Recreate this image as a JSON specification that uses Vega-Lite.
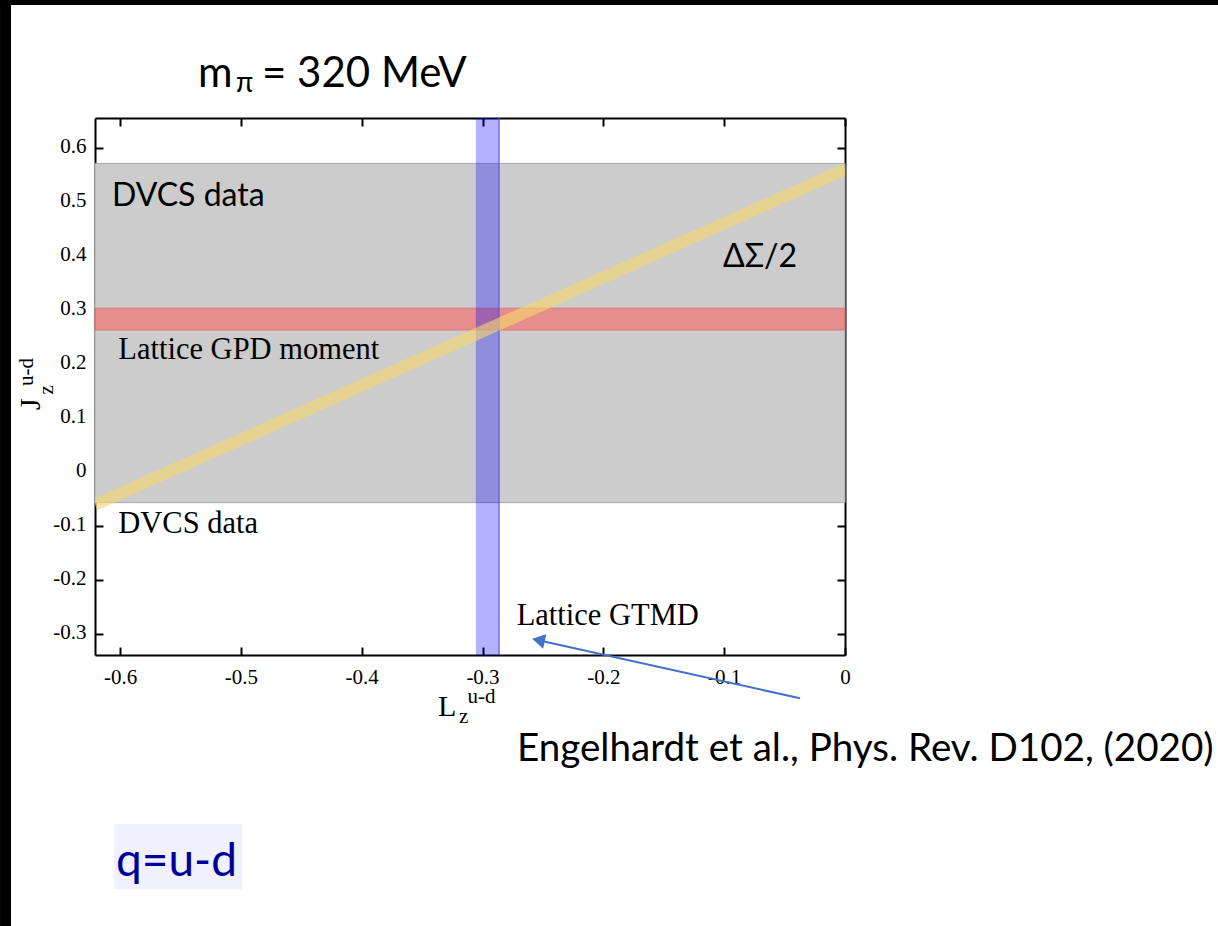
{
  "$schema": "https://vega.github.io/schema/vega-lite/v6.json",
  "width": 750,
  "height": 537,
  "autosize": "none",
  "padding": {"left": 95, "top": 118, "right": 373, "bottom": 271},
  "background": "white",
  "config": {
    "view": {"stroke": null},
    "axis": {
      "grid": false,
      "domainColor": "black",
      "domainWidth": 2,
      "tickColor": "black",
      "tickWidth": 2,
      "tickSize": -8,
      "labelFont": "Liberation Serif",
      "labelFontSize": 21,
      "labelColor": "black",
      "labelFlush": false,
      "labelOverlap": false,
      "zindex": 1,
      "title": null
    }
  },
  "resolve": {"axis": {"x": "independent", "y": "independent"}},
  "layer": [
    {
      "description": "DVCS band",
      "data": {"values": [{"lo": -0.056, "hi": 0.572}]},
      "mark": {"type": "rect", "fill": "#cccccc", "stroke": "#a9a9a9", "strokeWidth": 1},
      "encoding": {
        "y": {"field": "lo", "type": "quantitative", "scale": {"domain": [-0.338, 0.656], "nice": false, "zero": false},
              "axis": {"orient": "left", "values": [-0.3, -0.2, -0.1, 0, 0.1, 0.2, 0.3, 0.4, 0.5, 0.6], "labelExpr": "'' + datum.value", "labelPadding": 17, "labelOffset": -1.5}},
        "y2": {"field": "hi"}
      }
    },
    {
      "description": "lattice GPD moment band",
      "data": {"values": [{"lo": 0.2635, "hi": 0.304}]},
      "mark": {"type": "rect", "fill": "#ff4d4d", "fillOpacity": 0.5, "stroke": "#e05a5a", "strokeWidth": 1, "strokeOpacity": 0.6},
      "encoding": {
        "y": {"field": "lo", "type": "quantitative", "scale": {"domain": [-0.338, 0.656], "nice": false, "zero": false},
              "axis": {"orient": "right", "values": [-0.3, -0.2, -0.1, 0, 0.1, 0.2, 0.3, 0.4, 0.5, 0.6], "labels": false}},
        "y2": {"field": "hi"}
      }
    },
    {
      "description": "lattice GTMD band",
      "data": {"values": [{"lo": -0.3055, "hi": -0.2863}]},
      "mark": {"type": "rect", "fill": "#0000ff", "fillOpacity": 0.3},
      "encoding": {
        "x": {"field": "lo", "type": "quantitative", "scale": {"domain": [-0.6207, 0], "nice": false, "zero": false},
              "axis": {"orient": "bottom", "values": [-0.6, -0.5, -0.4, -0.3, -0.2, -0.1, 0], "labelExpr": "'' + datum.value", "labelPadding": 19.5, "labelBaseline": "top"}},
        "x2": {"field": "hi"}
      }
    },
    {
      "data": {"values": [{"L": -0.2863}]},
      "mark": {"type": "rule", "color": "#5a5af0", "strokeWidth": 1.5, "opacity": 0.8},
      "encoding": {
        "x": {"field": "L", "type": "quantitative", "scale": {"domain": [-0.6207, 0], "nice": false, "zero": false},
              "axis": {"orient": "top", "values": [-0.6, -0.5, -0.4, -0.3, -0.2, -0.1, 0], "labels": false}}
      }
    },
    {
      "description": "J = L + DeltaSigma/2",
      "data": {"values": [{"L": -0.6207, "J": -0.060}, {"L": 0, "J": 0.561}]},
      "mark": {"type": "line", "stroke": "#f5d76e", "opacity": 0.62, "strokeWidth": 12, "strokeCap": "butt", "clip": true},
      "encoding": {
        "x": {"field": "L", "type": "quantitative", "scale": {"domain": [-0.6207, 0], "nice": false, "zero": false}, "axis": null},
        "y": {"field": "J", "type": "quantitative", "scale": {"domain": [-0.338, 0.656], "nice": false, "zero": false}, "axis": null}
      }
    },
    {
      "data": {"values": [{"label": "DVCS data", "L": -0.6066, "J": 0.4935}, {"label": "ΔΣ/2", "L": -0.1010, "J": 0.3808}]},
      "mark": {"type": "text", "font": "Lato", "fontSize": 32, "align": "left", "baseline": "alphabetic", "color": "black"},
      "encoding": {
        "x": {"field": "L", "type": "quantitative", "scale": {"domain": [-0.6207, 0], "nice": false, "zero": false}, "axis": null},
        "y": {"field": "J", "type": "quantitative", "scale": {"domain": [-0.338, 0.656], "nice": false, "zero": false}, "axis": null},
        "text": {"field": "label"}
      }
    },
    {
      "data": {"values": [
        {"label": "Lattice GPD moment", "L": -0.6014, "J": 0.2094},
        {"label": "DVCS data", "L": -0.6014, "J": -0.1127},
        {"label": "Lattice GTMD", "L": -0.2717, "J": -0.2825}
      ]},
      "mark": {"type": "text", "font": "Liberation Serif", "fontSize": 30.5, "align": "left", "baseline": "alphabetic", "color": "black"},
      "encoding": {
        "x": {"field": "L", "type": "quantitative", "scale": {"domain": [-0.6207, 0], "nice": false, "zero": false}, "axis": null},
        "y": {"field": "J", "type": "quantitative", "scale": {"domain": [-0.338, 0.656], "nice": false, "zero": false}, "axis": null},
        "text": {"field": "label"}
      }
    },
    {
      "description": "arrow shaft",
      "data": {"values": [{"L": -0.0372, "J": -0.4182, "L2": -0.2537, "J2": -0.3106}]},
      "mark": {"type": "rule", "color": "#4472c4", "strokeWidth": 2},
      "encoding": {
        "x": {"field": "L", "type": "quantitative", "scale": {"domain": [-0.6207, 0], "nice": false, "zero": false}, "axis": null},
        "y": {"field": "J", "type": "quantitative", "scale": {"domain": [-0.338, 0.656], "nice": false, "zero": false}, "axis": null},
        "x2": {"field": "L2"},
        "y2": {"field": "J2"}
      }
    },
    {
      "description": "arrow head",
      "data": {"values": [{"L": -0.2537, "J": -0.3106}]},
      "mark": {"type": "point", "shape": "triangle-left", "filled": true, "color": "#4472c4", "opacity": 1, "size": 220, "angle": 12.5},
      "encoding": {
        "x": {"field": "L", "type": "quantitative", "scale": {"domain": [-0.6207, 0], "nice": false, "zero": false}, "axis": null},
        "y": {"field": "J", "type": "quantitative", "scale": {"domain": [-0.338, 0.656], "nice": false, "zero": false}, "axis": null}
      }
    },
    {
      "description": "axis titles: L, J",
      "data": {"values": [
        {"label": "L", "L": -0.3368, "J": -0.4509, "angle": 0},
        {"label": "J", "L": -0.6662, "J": 0.1155, "angle": 270}
      ]},
      "mark": {"type": "text", "font": "Liberation Serif", "fontSize": 30, "align": "left", "baseline": "alphabetic", "color": "black"},
      "encoding": {
        "x": {"field": "L", "type": "quantitative", "scale": {"domain": [-0.6207, 0], "nice": false, "zero": false}, "axis": null},
        "y": {"field": "J", "type": "quantitative", "scale": {"domain": [-0.338, 0.656], "nice": false, "zero": false}, "axis": null},
        "angle": {"field": "angle", "type": "quantitative", "scale": null},
        "text": {"field": "label"}
      }
    },
    {
      "description": "axis titles: sub- and superscripts",
      "data": {"values": [
        {"label": "z", "L": -0.3195, "J": -0.4639, "angle": 0},
        {"label": "u-d", "L": -0.3125, "J": -0.4265, "angle": 0},
        {"label": "z", "L": -0.6555, "J": 0.1440, "angle": 270},
        {"label": "u-d", "L": -0.6720, "J": 0.1599, "angle": 270}
      ]},
      "mark": {"type": "text", "font": "Liberation Serif", "fontSize": 21, "align": "left", "baseline": "alphabetic", "color": "black"},
      "encoding": {
        "x": {"field": "L", "type": "quantitative", "scale": {"domain": [-0.6207, 0], "nice": false, "zero": false}, "axis": null},
        "y": {"field": "J", "type": "quantitative", "scale": {"domain": [-0.338, 0.656], "nice": false, "zero": false}, "axis": null},
        "angle": {"field": "angle", "type": "quantitative", "scale": null},
        "text": {"field": "label"}
      }
    },
    {
      "description": "heading",
      "data": {"values": [
        {"label": "m", "L": -0.5355, "J": 0.7134},
        {"label": "= 320 MeV", "L": -0.4825, "J": 0.7134}
      ]},
      "mark": {"type": "text", "font": "Lato", "fontSize": 42, "align": "left", "baseline": "alphabetic", "color": "black"},
      "encoding": {
        "x": {"field": "L", "type": "quantitative", "scale": {"domain": [-0.6207, 0], "nice": false, "zero": false}, "axis": null},
        "y": {"field": "J", "type": "quantitative", "scale": {"domain": [-0.338, 0.656], "nice": false, "zero": false}, "axis": null},
        "text": {"field": "label"}
      }
    },
    {
      "data": {"values": [{"label": "π", "L": -0.5040, "J": 0.7041}]},
      "mark": {"type": "text", "font": "Lato", "fontSize": 28, "align": "left", "baseline": "alphabetic", "color": "black"},
      "encoding": {
        "x": {"field": "L", "type": "quantitative", "scale": {"domain": [-0.6207, 0], "nice": false, "zero": false}, "axis": null},
        "y": {"field": "J", "type": "quantitative", "scale": {"domain": [-0.338, 0.656], "nice": false, "zero": false}, "axis": null},
        "text": {"field": "label"}
      }
    },
    {
      "description": "citation",
      "data": {"values": [{"label": "Engelhardt et al., Phys. Rev. D102, (2020)", "L": -0.2715, "J": -0.5342}]},
      "mark": {"type": "text", "font": "Lato", "fontSize": 38.6, "align": "left", "baseline": "alphabetic", "color": "black"},
      "encoding": {
        "x": {"field": "L", "type": "quantitative", "scale": {"domain": [-0.6207, 0], "nice": false, "zero": false}, "axis": null},
        "y": {"field": "J", "type": "quantitative", "scale": {"domain": [-0.338, 0.656], "nice": false, "zero": false}, "axis": null},
        "text": {"field": "label"}
      }
    },
    {
      "description": "flavour tag box",
      "data": {"values": [{"L": -0.6047, "L2": -0.4990, "J": -0.6507, "J2": -0.7717}]},
      "mark": {"type": "rect", "fill": "#f0f0ff"},
      "encoding": {
        "x": {"field": "L", "type": "quantitative", "scale": {"domain": [-0.6207, 0], "nice": false, "zero": false}, "axis": null},
        "x2": {"field": "L2"},
        "y": {"field": "J", "type": "quantitative", "scale": {"domain": [-0.338, 0.656], "nice": false, "zero": false}, "axis": null},
        "y2": {"field": "J2"}
      }
    },
    {
      "data": {"values": [{"label": "q=u-d", "L": -0.6033, "J": -0.7471}]},
      "mark": {"type": "text", "font": "Lato", "fontSize": 46, "align": "left", "baseline": "alphabetic", "color": "#000099"},
      "encoding": {
        "x": {"field": "L", "type": "quantitative", "scale": {"domain": [-0.6207, 0], "nice": false, "zero": false}, "axis": null},
        "y": {"field": "J", "type": "quantitative", "scale": {"domain": [-0.338, 0.656], "nice": false, "zero": false}, "axis": null},
        "text": {"field": "label"}
      }
    },
    {
      "description": "slide edges",
      "data": {"values": [
        {"L": -0.6993, "L2": -0.6902, "J": 0.8744, "J2": -0.8396},
        {"L": -0.6993, "L2": 0.3087, "J": 0.8744, "J2": 0.8652}
      ]},
      "mark": {"type": "rect", "fill": "black"},
      "encoding": {
        "x": {"field": "L", "type": "quantitative", "scale": {"domain": [-0.6207, 0], "nice": false, "zero": false}, "axis": null},
        "x2": {"field": "L2"},
        "y": {"field": "J", "type": "quantitative", "scale": {"domain": [-0.338, 0.656], "nice": false, "zero": false}, "axis": null},
        "y2": {"field": "J2"}
      }
    }
  ]
}
